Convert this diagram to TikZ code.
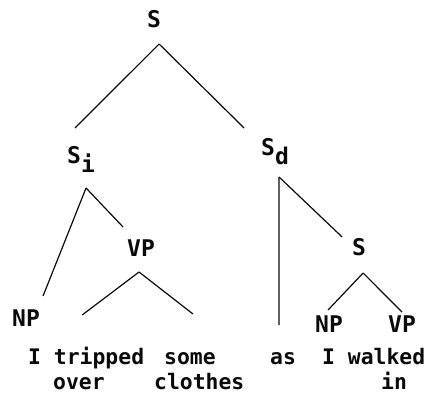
\documentclass[tikz,border=0pt]{standalone}
\usepackage{fontspec}
\setmonofont{DejaVu Sans Mono}
\usepackage{tikz}
\usetikzlibrary{positioning}
\definecolor{inkblack}{RGB}{10,10,10}

\begin{document}
\begin{tikzpicture}[
  x=1pt, y=1pt,
  cat/.style={font=\fontsize{23}{26}\selectfont\ttfamily\bfseries,
    text=inkblack, inner sep=0pt, anchor=base west},
  word/.style={font=\fontsize{21.4}{25}\selectfont\ttfamily\bfseries,
    text=inkblack, inner sep=0pt, anchor=base west},
  branch/.style={inkblack, line width=1.2pt},
]
  \useasboundingbox (0,0) rectangle (426,400);

  % === CATEGORY LABELS ===
  \node[cat] (s)   at (147,372) {S};
  \node[cat] (si)  at (67,237)  {S\raisebox{-10pt}{i}};
  \node[cat] (sd)  at (261,245) {S\raisebox{-10pt}{d}};
  \node[cat] (vp1) at (127,144) {VP};
  \node[cat] (np1) at (12,74)   {NP};
  \node[cat] (s2)  at (352,145) {S};
  \node[cat] (np2) at (315,68)  {NP};
  \node[cat] (vp2) at (388,68)  {VP};

  % === WORDS ===
  \node[word] (wtripped) at (28,36)  {I tripped};
  \node[word] (wover)    at (53,11)  {over};
  \node[word] (wsome)    at (164,36) {some};
  \node[word] (wclothes) at (154,11) {clothes};
  \node[word] (was)      at (270,36) {as};
  \node[word] (wwalked)  at (322,36) {I walked};
  \node[word] (win)      at (381,11) {in};

  % === BRANCHES ===
  \draw[branch] ([shift={(5,-16)}]s.base) -- ([shift={(-6,35)}]si.base);
  \draw[branch] ([shift={(5,-16)}]s.base) -- ([shift={(-31,27)}]sd.base);

  \draw[branch] ([shift={(5,-25)}]si.base) -- ([shift={(17,30)}]np1.base);
  \draw[branch] ([shift={(5,-25)}]si.base) -- ([shift={(-18,29)}]vp1.base);

  \draw[branch] ([shift={(-2,-16)}]vp1.base) -- ([shift={(-4,49)}]wtripped.base);
  \draw[branch] ([shift={(-2,-16)}]vp1.base) -- ([shift={(3,50)}]wsome.base);

  \draw[branch] ([shift={(4,-22)}]sd.base) -- ([shift={(-4,39)}]was.base);
  \draw[branch] ([shift={(4,-22)}]sd.base) -- ([shift={(-17,18)}]s2.base);

  \draw[branch] ([shift={(4,-18)}]s2.base) -- ([shift={(-1,22)}]np2.base);
  \draw[branch] ([shift={(4,-18)}]s2.base) -- ([shift={(0,20)}]vp2.base);
\end{tikzpicture}
\end{document}
